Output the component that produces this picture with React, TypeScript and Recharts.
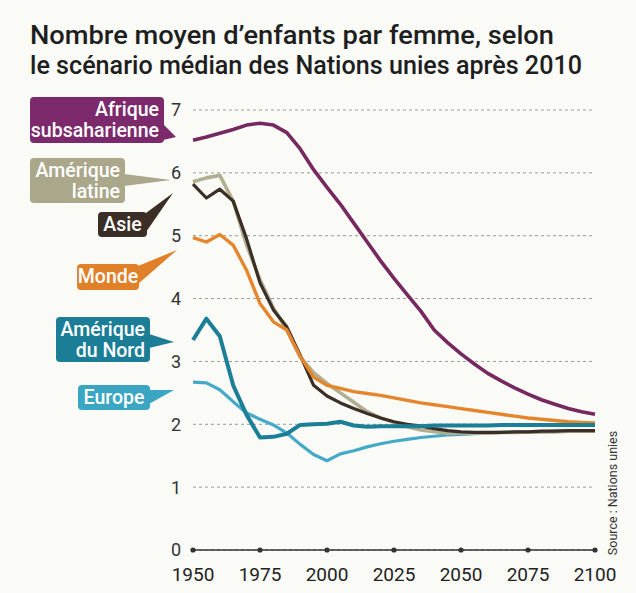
import { LineChart, Line, XAxis, YAxis, CartesianGrid } from "recharts";

const FONT = "Roboto, 'DejaVu Sans', sans-serif";

// Years every 5 years, 1950-2100
const years = [
  1950, 1955, 1960, 1965, 1970, 1975, 1980, 1985, 1990, 1995, 2000, 2005, 2010, 2015, 2020, 2025,
  2030, 2035, 2040, 2045, 2050, 2055, 2060, 2065, 2070, 2075, 2080, 2085, 2090, 2095, 2100,
];

const afrique = [
  6.52, 6.57, 6.63, 6.69, 6.76, 6.79, 6.76, 6.64, 6.38, 6.05, 5.77, 5.5, 5.2, 4.9, 4.6, 4.32,
  4.06, 3.8, 3.5, 3.3, 3.12, 2.96, 2.81, 2.69, 2.58, 2.48, 2.39, 2.32, 2.25, 2.2, 2.16,
];
const amLatine = [
  5.86, 5.92, 5.96, 5.55, 4.85, 4.3, 3.85, 3.5, 3.07, 2.82, 2.65, 2.5, 2.35, 2.2, 2.1, 2.03,
  1.96, 1.91, 1.88, 1.86, 1.86, 1.86, 1.86, 1.87, 1.87, 1.88, 1.88, 1.88, 1.89, 1.89, 1.89,
];
const asie = [
  5.82, 5.6, 5.74, 5.55, 4.95, 4.25, 3.82, 3.55, 3.1, 2.62, 2.45, 2.34, 2.25, 2.17, 2.1, 2.04,
  2.0, 1.97, 1.93, 1.9, 1.88, 1.87, 1.87, 1.87, 1.88, 1.88, 1.89, 1.89, 1.9, 1.9, 1.9,
];
const monde = [
  4.97, 4.9, 5.02, 4.85, 4.45, 3.92, 3.63, 3.5, 3.08, 2.75, 2.62, 2.57, 2.52, 2.49, 2.46, 2.42,
  2.38, 2.34, 2.31, 2.28, 2.25, 2.22, 2.19, 2.16, 2.13, 2.1, 2.08, 2.06, 2.04, 2.03, 2.02,
];
const amNord = [
  3.34, 3.68, 3.4, 2.62, 2.15, 1.79, 1.8, 1.85, 1.99, 2.0, 2.01, 2.04, 1.98, 1.96, 1.97, 1.97,
  1.97, 1.97, 1.98, 1.98, 1.98, 1.98, 1.98, 1.99, 1.99, 1.99, 1.99, 1.99, 1.99, 1.99, 1.99,
];
const europe = [
  2.67, 2.66, 2.55, 2.36, 2.18, 2.08, 1.99, 1.86, 1.68, 1.52, 1.42, 1.53, 1.58, 1.64, 1.69, 1.73,
  1.76, 1.79, 1.81, 1.83, 1.84, 1.85, 1.86, 1.87, 1.87, 1.88, 1.88, 1.89, 1.89, 1.89, 1.9,
];

const xTicks = [1950, 1975, 2000, 2025, 2050, 2075, 2100];
const yTicks = [0, 1, 2, 3, 4, 5, 6, 7];

const data = years.map((year, i) => ({
  year,
  afrique: afrique[i],
  amLatine: amLatine[i],
  asie: asie[i],
  monde: monde[i],
  amNord: amNord[i],
  europe: europe[i],
}));

const XTick = (props: any) => {
  const { x, y, payload } = props;
  return (
    <g>
      <circle cx={x} cy={y} r={2.6} fill="#333" />
      <text x={x} y={y + 31} textAnchor="middle" fontSize={19} fill="#222" fontFamily={FONT}>
        {payload.value}
      </text>
    </g>
  );
};

// callout labels: box + pointer tail
type Callout = {
  lines: string[];
  color: string;
  box: [number, number, number, number]; // x, y, w, h
  tail: [number, number, number, number]; // base y1, base y2 on right edge, tip x, tip y
  anchor?: "end" | "middle";
};

const callouts: Callout[] = [
  { lines: ["Afrique", "subsaharienne"], color: "#7d2a6c", box: [30, 97, 134, 46], tail: [124, 140, 176, 137] },
  { lines: ["Amérique", "latine"], color: "#aaa78a", box: [30, 158, 95, 45], tail: [174, 186, 171, 180] },
  { lines: ["Asie"], color: "#3a2e27", box: [98, 212, 49, 25], tail: [213, 232, 173, 193], anchor: "middle" },
  { lines: ["Monde"], color: "#e0812a", box: [77, 264, 62, 26], tail: [266, 284, 177, 250], anchor: "middle" },
  { lines: ["Amérique", "du Nord"], color: "#1b7d96", box: [56, 317, 94, 45], tail: [334, 348, 174, 342] },
  { lines: ["Europe"], color: "#3aa6c3", box: [78, 385, 72, 25], tail: [390, 404, 174, 390], anchor: "middle" },
];

const CalloutBox = ({ c }: { c: Callout }) => {
  const [x, y, w, h] = c.box;
  const [b1, b2, tx, ty] = c.tail;
  const right = x + w;
  const anchor = c.anchor ?? "end";
  const textX = anchor === "end" ? right - 5 : x + w / 2;
  return (
    <g>
      <rect x={x} y={y} width={w} height={h} rx={4} fill={c.color} />
      <path d={`M${right - 1},${b1} L${tx},${ty} L${right - 1},${b2} Z`} fill={c.color} />
      {c.lines.map((t, i) => (
        <text
          key={t}
          x={textX}
          y={y + 19 + i * 21}
          textAnchor={anchor}
          fontSize={19.5}
          fontWeight={500}
          fill="#fff"
          fontFamily={FONT}
        >
          {t}
        </text>
      ))}
    </g>
  );
};

const series = [
  { key: "europe", color: "#44aac8", width: 3.2 },
  { key: "amLatine", color: "#b2ae90", width: 3.6 },
  { key: "asie", color: "#3a2e27", width: 3.2 },
  { key: "monde", color: "#e5862c", width: 3.4 },
  { key: "afrique", color: "#76295f", width: 3.6 },
  { key: "amNord", color: "#1c7f98", width: 4 },
];

export default function App() {
  return (
    <div style={{ position: "absolute", left: 0, top: 0, width: 636, height: 593, background: "#fafaf7", fontFamily: FONT }}>
      <LineChart width={636} height={593} data={data} margin={{ top: 110, right: 41, bottom: 13, left: 163 }}>
        <CartesianGrid horizontal vertical={false} stroke="#9a9a9a" strokeDasharray="3 3" strokeWidth={1} />
        <XAxis
          dataKey="year"
          type="number"
          domain={[1950, 2100]}
          ticks={xTicks}
          tick={<XTick />}
          tickLine={false}
          tickSize={0}
          tickMargin={0}
          height={30}
          axisLine={{ stroke: "#333", strokeWidth: 1.5 }}
          interval={0}
        />
        <YAxis
          type="number"
          domain={[0, 7]}
          ticks={yTicks}
          width={30}
          axisLine={false}
          tickLine={false}
          tickMargin={6}
          interval={0}
          tick={{ fontSize: 18, fill: "#333", fontFamily: FONT }}
        />
        {series.map((s) => (
          <Line
            key={s.key}
            dataKey={s.key}
            type="linear"
            stroke={s.color}
            strokeWidth={s.width}
            dot={false}
            isAnimationActive={false}
            strokeLinejoin="round"
          />
        ))}
      </LineChart>
      <svg width={636} height={593} style={{ position: "absolute", left: 0, top: 0 }}>
        <text x={30} y={44} fontSize={26} fontWeight={500} fill="#1e1e1e" textLength={524} lengthAdjust="spacingAndGlyphs" fontFamily={FONT}>
          Nombre moyen d’enfants par femme, selon
        </text>
        <text x={30} y={74} fontSize={26} fontWeight={500} fill="#1e1e1e" textLength={552} lengthAdjust="spacingAndGlyphs" fontFamily={FONT}>
          le scénario médian des Nations unies après 2010
        </text>
        {callouts.map((c) => (
          <CalloutBox key={c.lines.join(" ")} c={c} />
        ))}
        <text
          x={0}
          y={0}
          transform="translate(617,493) rotate(-90)"
          textAnchor="middle"
          fontSize={12.5}
          fill="#333"
          fontFamily={FONT}
        >
          Source : Nations unies
        </text>
      </svg>
    </div>
  );
}
